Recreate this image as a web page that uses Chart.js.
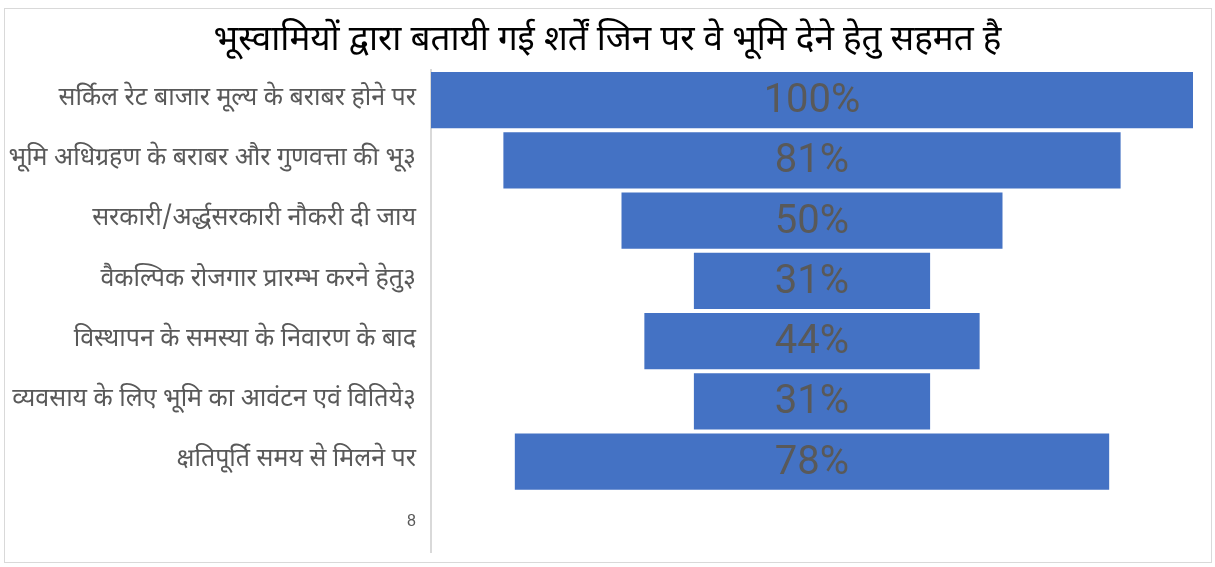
<!DOCTYPE html>
<html>
<head>
<meta charset="utf-8">
<script src="https://cdn.jsdelivr.net/npm/chart.js@4"></script>
<style>
html,body{margin:0;padding:0;background:#fff;}
#wrap{position:relative;width:1215px;height:567px;}
#frame{position:absolute;left:4px;top:8px;width:1206px;height:553px;border:1px solid #d9d9d9;pointer-events:none;}
</style>
</head>
<body>
<div id="wrap">
<canvas id="c" width="1215" height="567"></canvas>
<div id="frame"></div>
</div>
<script>
const titleText = "भूस्वामियों द्वारा बतायी गई शर्तें जिन पर वे भूमि देने हेतु सहमत है";
const categories = [
  "सर्किल रेट बाजार मूल्य के बराबर होने पर",
  "भूमि अधिग्रहण के बराबर और गुणवत्ता की भू३",
  "सरकारी/अर्द्धसरकारी नौकरी दी जाय",
  "वैकल्पिक रोजगार प्रारम्भ करने हेतु३",
  "विस्थापन के समस्या के निवारण के बाद",
  "व्यवसाय के लिए भूमि का आवंटन एवं वितिये३",
  "क्षतिपूर्ति समय से मिलने पर",
  "8"
];
const values = [100, 81, 50, 31, 44, 31, 78, null];

const devFont = "'Noto Sans Devanagari','Lohit Devanagari','Mangal','FreeSans','Noto Sans',sans-serif";
const numFont = "'Liberation Sans Narrow','Arial Narrow','Roboto',sans-serif";

const floating = values.map(v => v == null ? null : [50 - v / 2, 50 + v / 2]);

const centerLabels = {
  id: 'centerLabels',
  afterDatasetsDraw(chart) {
    const ctx = chart.ctx;
    const meta = chart.getDatasetMeta(0);
    ctx.save();
    ctx.font = "40px " + numFont;
    ctx.fillStyle = "#595959";
    ctx.textAlign = "center";
    ctx.textBaseline = "middle";
    meta.data.forEach((el, i) => {
      if (values[i] == null) return;
      const p = el.getCenterPoint();
      ctx.fillText(values[i] + "%", p.x, p.y + 2);
    });
    ctx.restore();
  }
};

const pageTitle = {
  id: 'pageTitle',
  afterDraw(chart) {
    const ctx = chart.ctx;
    ctx.save();
    ctx.font = "35px " + devFont;
    ctx.fillStyle = "#000";
    ctx.textAlign = "center";
    ctx.textBaseline = "middle";
    ctx.fillText(titleText, chart.width / 2, 43);
    ctx.restore();
  }
};

new Chart(document.getElementById('c'), {
  type: 'bar',
  data: {
    labels: categories,
    datasets: [{
      data: floating,
      backgroundColor: '#4472C4',
      borderWidth: 0,
      categoryPercentage: 1,
      barPercentage: 0.93
    }]
  },
  options: {
    indexAxis: 'y',
    responsive: false,
    animation: false,
    layout: { padding: { top: 70, bottom: 15, right: 22, left: 0 } },
    plugins: {
      legend: { display: false },
      tooltip: { enabled: false },
      title: { display: false }
    },
    scales: {
      x: { display: false, min: 0, max: 100 },
      y: {
        afterFit(scale) { scale.width = 431; scale.paddingTop = 0; scale.paddingBottom = 0; },
        grid: { display: false, drawTicks: false },
        border: { display: true, color: '#d9d9d9', width: 2 },
        ticks: {
          color: '#595959',
          padding: 15,
          font: (c) => c.index === 7 ? { family: "'Liberation Sans','Arial',sans-serif", size: 16 } : { family: devFont, size: 25 },
          autoSkip: false
        }
      }
    }
  },
  plugins: [centerLabels, pageTitle]
});
</script>
</body>
</html>
